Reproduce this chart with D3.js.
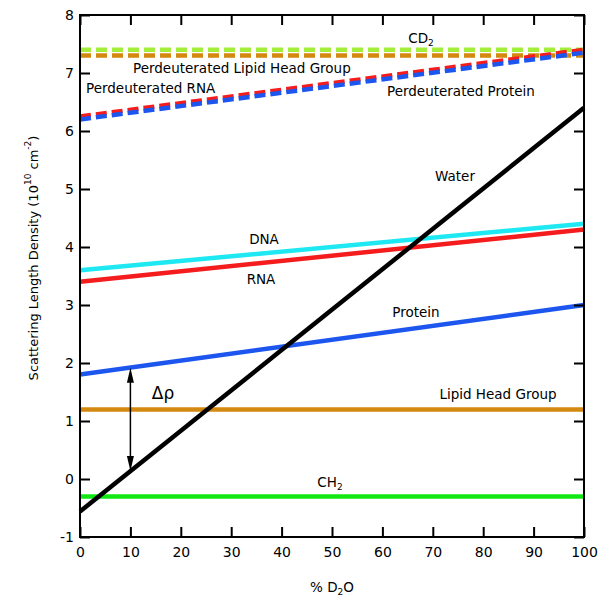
<!DOCTYPE html>
<html>
<head>
<meta charset="utf-8">
<script src="https://cdn.jsdelivr.net/npm/d3@7"></script>
<style>
  html, body { margin: 0; padding: 0; background: #fff; }
  svg { display: block; font-family: "DejaVu Sans", sans-serif; }
</style>
</head>
<body>
<svg id="chart" width="606" height="606"></svg>
<script>
// ---- data ----
const pctD2O = [0, 100];
const water = [-0.56, 6.4];
const dna = [3.6, 4.4];
const rna = [3.4, 4.3];
const protein = [1.8, 3.0];
const lipidHead = [1.2, 1.2];
const ch2 = [-0.3, -0.3];
const cd2 = [7.4, 7.4];
const perdLipidHead = [7.3, 7.3];
const perdRNA = [6.25, 7.4];
const perdProtein = [6.2, 7.35];
const xTicks = [0, 10, 20, 30, 40, 50, 60, 70, 80, 90, 100];
const yTicks = [-1, 0, 1, 2, 3, 4, 5, 6, 7, 8];
const deltaRhoAt = 10;

const series = [
  { name: "CH2", values: ch2, color: "#12e812", dash: null },
  { name: "Lipid Head Group", values: lipidHead, color: "#d4880f", dash: null },
  { name: "Protein", values: protein, color: "#1c56ee", dash: null },
  { name: "RNA", values: rna, color: "#f41c1c", dash: null },
  { name: "DNA", values: dna, color: "#1ee8f2", dash: null },
  { name: "Water", values: water, color: "#000000", dash: null },
  { name: "CD2", values: cd2, color: "#a2ee3a", dash: "11,5" },
  { name: "Perdeuterated Lipid Head Group", values: perdLipidHead, color: "#d4880f", dash: "11,5" },
  { name: "Perdeuterated RNA", values: perdRNA, color: "#f41c1c", dash: "11,5" },
  { name: "Perdeuterated Protein", values: perdProtein, color: "#1c56ee", dash: "11,5" }
];

// ---- layout ----
const L = 80, R = 584, T = 15, B = 537;
const x = d3.scaleLinear().domain([0, 100]).range([L, R]);
const y = d3.scaleLinear().domain([-1, 8]).range([B, T]);
const svg = d3.select("#chart");

const line = d3.line().x(d => x(d[0])).y(d => y(d[1]));

svg.append("g").selectAll("path")
  .data(series)
  .join("path")
  .attr("d", s => line(pctD2O.map((p, i) => [p, s.values[i]])))
  .attr("fill", "none")
  .attr("stroke", s => s.color)
  .attr("stroke-width", 4.5)
  .attr("stroke-dasharray", s => s.dash);

// ---- axes (ticks inward on all sides) ----
const plain = d => String(d);
function styleAxis(g) {
  g.select(".domain").remove();
  g.selectAll(".tick line").attr("stroke", "#000").attr("stroke-width", 2);
  g.selectAll(".tick text").attr("font-size", 14).attr("fill", "#000")
    .attr("font-family", "DejaVu Sans, sans-serif");
}
svg.append("g").attr("transform", `translate(0,${B})`)
  .call(d3.axisBottom(x).tickValues(xTicks).tickSize(-10).tickPadding(10).tickFormat(plain))
  .call(styleAxis);
svg.append("g").attr("transform", `translate(0,${T})`)
  .call(d3.axisTop(x).tickValues(xTicks).tickSize(-10).tickFormat(""))
  .call(styleAxis);
svg.append("g").attr("transform", `translate(${L},0)`)
  .call(d3.axisLeft(y).tickValues(yTicks).tickSize(-10).tickPadding(6).tickFormat(plain))
  .call(styleAxis);
svg.append("g").attr("transform", `translate(${R},0)`)
  .call(d3.axisRight(y).tickValues(yTicks).tickSize(-10).tickFormat(""))
  .call(styleAxis);

svg.append("rect").attr("x", L).attr("y", T).attr("width", R - L).attr("height", B - T)
  .attr("fill", "none").attr("stroke", "#000").attr("stroke-width", 2);

// ---- axis titles ----
const xt = svg.append("text").attr("x", (L + R) / 2).attr("y", 592)
  .attr("text-anchor", "middle").attr("font-size", 13.5);
xt.append("tspan").text("% D");
xt.append("tspan").attr("font-size", 9).attr("dy", 3).text("2");
xt.append("tspan").attr("dy", -3).text("O");

const yt = svg.append("text").attr("transform", "translate(38,258) rotate(-90)")
  .attr("text-anchor", "middle").attr("font-size", 13);
yt.append("tspan").text("Scattering Length Density (10");
yt.append("tspan").attr("font-size", 9).attr("dy", -7).text("10");
yt.append("tspan").attr("dy", 7).text(" cm");
yt.append("tspan").attr("font-size", 9).attr("dy", -7).text("-2");
yt.append("tspan").attr("dy", 7).text(")");

// ---- annotations ----
const labels = [
  { text: "Perdeuterated Lipid Head Group", px: 133, py: 73, anchor: "start" },
  { text: "Perdeuterated RNA", px: 86, py: 93, anchor: "start" },
  { text: "Perdeuterated Protein", px: 387, py: 96, anchor: "start" },
  { text: "Water", px: 455, py: 181, anchor: "middle" },
  { text: "DNA", px: 264, py: 244, anchor: "middle" },
  { text: "RNA", px: 261, py: 284, anchor: "middle" },
  { text: "Protein", px: 416, py: 317, anchor: "middle" },
  { text: "Lipid Head Group", px: 498, py: 399, anchor: "middle" }
];
svg.append("g").selectAll("text").data(labels).join("text")
  .attr("x", d => d.px).attr("y", d => d.py)
  .attr("text-anchor", d => d.anchor).attr("font-size", 13.5).text(d => d.text);

function subLabel(base, sub, cx, by) {
  const t = svg.append("text").attr("x", cx).attr("y", by)
    .attr("text-anchor", "middle").attr("font-size", 13.5);
  t.append("tspan").text(base);
  t.append("tspan").attr("font-size", 9).attr("dy", 3).text(sub);
}
subLabel("CD", "2", 421, 43);
subLabel("CH", "2", 330, 487);

// ---- delta rho arrow ----
function interp(vals, p) { return vals[0] + (vals[1] - vals[0]) * (p - pctD2O[0]) / (pctD2O[1] - pctD2O[0]); }
const ax = x(deltaRhoAt), ay1 = y(interp(protein, deltaRhoAt)), ay2 = y(interp(water, deltaRhoAt));
const hl = 15, hw = 3.5;
svg.append("line").attr("x1", ax).attr("x2", ax).attr("y1", ay1 + hl - 2).attr("y2", ay2 - hl + 2)
  .attr("stroke", "#000").attr("stroke-width", 1.5);
svg.append("path").attr("d", `M${ax},${ay1} L${ax - hw},${ay1 + hl} L${ax + hw},${ay1 + hl} Z`).attr("fill", "#000");
svg.append("path").attr("d", `M${ax},${ay2} L${ax - hw},${ay2 - hl} L${ax + hw},${ay2 - hl} Z`).attr("fill", "#000");
svg.append("text").attr("x", 163).attr("y", 399).attr("text-anchor", "middle")
  .attr("font-size", 17).text("Δρ");
</script>
</body>
</html>
